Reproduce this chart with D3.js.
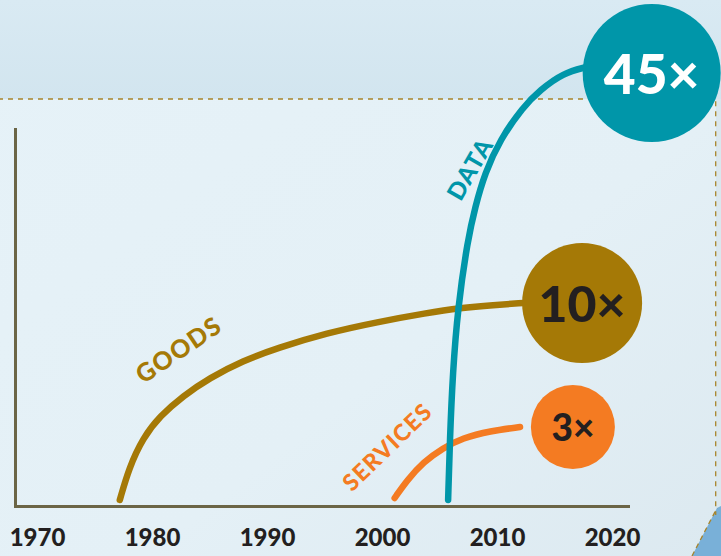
<!DOCTYPE html>
<html>
<head>
<meta charset="utf-8">
<script src="https://cdn.jsdelivr.net/npm/d3@7"></script>
<style>
  html, body { margin: 0; padding: 0; background: #dfecf3; }
  svg { display: block; }
</style>
</head>
<body>
<svg id="chart" width="721" height="556"></svg>
<script>
// ---------- DATA ----------
const tickYears = [1970, 1980, 1990, 2000, 2010, 2020];

const goodsYears  = [1977.2, 1978.0, 1979.2, 1980.7, 1982.7, 1985.0, 1987.9, 1990.9, 1995.2, 1999.6, 2003.9, 2006.8, 2009.7, 2012.3];
const goodsValues = [1.5, 9.5, 17.0, 22.5, 27.5, 32.0, 36.3, 39.5, 43.25, 46, 48.25, 49.5, 50.25, 50.75];

const servicesYears  = [2001.1, 2002.2, 2003.6, 2005.3, 2007.0, 2009.4, 2012.0];
const servicesValues = [2, 6.5, 11, 14.5, 17, 18.75, 19.75];

const dataYears  = [2005.75, 2005.9, 2006.15, 2006.6, 2007.45, 2008.1, 2008.95, 2010.25, 2012.25, 2013.75, 2015.75, 2017.8];
const dataValues = [1.5, 16.5, 33.25, 49.75, 66.5, 74.75, 83.25, 91.5, 99.75, 104, 108.25, 109.75];

const seriesNames = ["GOODS", "SERVICES", "DATA"];
const multipliers = ["10×", "3×", "45×"];
const bubbleYears  = [2017.4, 2016.6, 2023.45];
const bubbleValues = [50.75, 19.75, 108.25];

// ---------- STYLE / LAYOUT ----------
const W = 721, H = 556;
const colors = { GOODS: "#a57906", SERVICES: "#f47b22", DATA: "#0096a9" };
const bubbleStyle = {
  GOODS:    { r: 60, size: 50, fill: "#a57906", text: "#231f20", dy: 19 },
  SERVICES: { r: 42, size: 37, fill: "#f47b22", text: "#231f20", dy: 14 },
  DATA:     { r: 69, size: 55, fill: "#0096a9", text: "#ffffff", dy: 21 }
};
const labelStyle = {
  GOODS:    { year: 1982.75, value: 37.2, angle: -34, size: 25 },
  SERVICES: { year: 2000.95, value: 13.3, angle: -44, size: 23 },
  DATA:     { year: 2008.3, value: 83.2, angle: -60, size: 24 }
};
const frame = { left: 15.5, right: 630, top: 128, bottom: 506.5 };

const svg = d3.select("#chart");

// ---------- BACKGROUND ----------
const defs = svg.append("defs");
const bg = defs.append("linearGradient").attr("id", "bg").attr("x1", 0).attr("y1", 0).attr("x2", 1).attr("y2", 1);
bg.append("stop").attr("offset", "0%").attr("stop-color", "#e6f2f8");
bg.append("stop").attr("offset", "60%").attr("stop-color", "#e4f0f6");
bg.append("stop").attr("offset", "100%").attr("stop-color", "#dce9f0");
const topG = defs.append("linearGradient").attr("id", "topbg").attr("x1", 0).attr("y1", 0).attr("x2", 0).attr("y2", 1);
topG.append("stop").attr("offset", "0%").attr("stop-color", "#d9eaf3");
topG.append("stop").attr("offset", "100%").attr("stop-color", "#d2e5ef");

svg.append("rect").attr("width", W).attr("height", H).attr("fill", "url(#bg)");
svg.append("rect").attr("width", W).attr("height", 99).attr("fill", "url(#topbg)");
svg.append("rect").attr("x", 716).attr("y", 99).attr("width", 5).attr("height", H - 99).attr("fill", "#d9e7ee");
// folded corner
svg.append("path").attr("d", "M692,556 L717,508 L721,506 L721,556 Z").attr("fill", "#79b0d8");
svg.append("path").attr("d", "M692,556 L717,508").attr("stroke", "#a8842a").attr("stroke-width", 1.3).attr("stroke-dasharray", "5,4").attr("fill", "none");

// dashed frame
svg.append("path")
  .attr("d", `M-2,99 L715.7,99 L715.7,515`)
  .attr("fill", "none").attr("stroke", "#a8842a").attr("stroke-width", 1.3).attr("stroke-dasharray", "5,5");

// ---------- SCALES ----------
const x = d3.scaleLinear().domain([1970, 2020]).range([37, 612]);
const y = d3.scaleLinear().domain([0, 100]).range([506, 106]);

// ---------- AXES ----------
svg.append("line").attr("x1", frame.left).attr("x2", frame.left).attr("y1", frame.top).attr("y2", frame.bottom + 1.5)
  .attr("stroke", "#6b6546").attr("stroke-width", 3);
svg.append("line").attr("x1", frame.left - 1.5).attr("x2", frame.right).attr("y1", frame.bottom).attr("y2", frame.bottom)
  .attr("stroke", "#6b6546").attr("stroke-width", 3);

const xAxis = svg.append("g").attr("transform", `translate(0,${frame.bottom})`)
  .call(d3.axisBottom(x).tickValues(tickYears).tickFormat(d3.format("d")).tickSize(0).tickPadding(22.5));
xAxis.select(".domain").remove();
xAxis.selectAll("text").attr("font-family", "Lato, sans-serif").attr("font-weight", 900)
  .attr("font-size", 24).attr("fill", "#231f20");

// ---------- SERIES ----------
const series = [
  { name: "GOODS", years: goodsYears, values: goodsValues },
  { name: "SERVICES", years: servicesYears, values: servicesValues },
  { name: "DATA", years: dataYears, values: dataValues }
];
const line = d3.line().x(d => x(d[0])).y(d => y(d[1])).curve(d3.curveBasis);

series.forEach(s => {
  const pts = s.years.map((yr, i) => [yr, s.values[i]]);
  svg.append("path").datum(pts).attr("d", line)
    .attr("fill", "none").attr("stroke", colors[s.name]).attr("stroke-width", 6.5)
    .attr("stroke-linecap", "round");
});

// labels
series.forEach(s => {
  const L = labelStyle[s.name];
  svg.append("text")
    .attr("transform", `translate(${x(L.year)},${y(L.value)}) rotate(${L.angle})`)
    .attr("text-anchor", "middle")
    .attr("font-family", "Lato, sans-serif").attr("font-weight", 900)
    .attr("font-size", L.size).attr("letter-spacing", 1.2)
    .attr("fill", colors[s.name]).text(s.name);
});

// bubbles
seriesNames.forEach((name, i) => {
  const B = bubbleStyle[name];
  const cx = x(bubbleYears[i]), cy = y(bubbleValues[i]);
  svg.append("circle").attr("cx", cx).attr("cy", cy).attr("r", B.r).attr("fill", B.fill);
  svg.append("text").attr("x", cx).attr("y", cy + B.dy)
    .attr("text-anchor", "middle")
    .attr("font-family", "Lato, sans-serif").attr("font-weight", 900)
    .attr("font-size", B.size).attr("fill", B.text).text(multipliers[i]);
});
</script>
</body>
</html>
